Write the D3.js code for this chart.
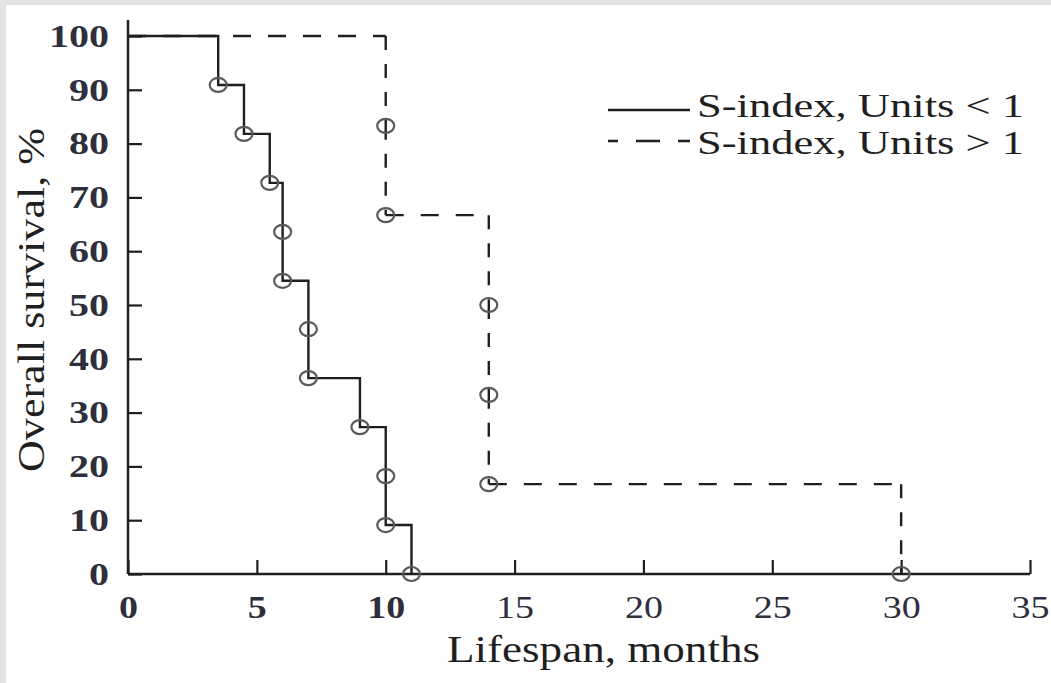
<!DOCTYPE html>
<html>
<head>
<meta charset="utf-8">
<script src="https://cdn.jsdelivr.net/npm/d3@7"></script>
<style>
  html, body { margin: 0; padding: 0; background: #e3e3e3; }
  svg { display: block; }
  svg text { font-family: 'Liberation Serif', Tinos, 'Times New Roman', Times, serif; }
</style>
</head>
<body>
<svg id="chart" width="1051" height="683"></svg>
<script>
// dados (Kaplan-Meier)
const solidTimes = [0, 3.5, 4.5, 5.5, 6, 6, 7, 7, 9, 10, 10, 11];
const solidSurv  = [100, 90.9, 81.8, 72.7, 63.6, 54.5, 45.5, 36.4, 27.3, 18.2, 9.1, 0];
const dashTimes  = [0, 10, 10, 14, 14, 14, 30];
const dashSurv   = [100, 83.3, 66.7, 50, 33.3, 16.7, 0];

const xTicks = [0, 5, 10, 15, 20, 25, 30, 35];
const yTicks = [0, 10, 20, 30, 40, 50, 60, 70, 80, 90, 100];
const legendLabels = ['S-index, Units < 1', 'S-index, Units > 1'];
const xTitle = 'Lifespan, months';
const yTitle = 'Overall survival, %';

// CAPS: constantes de estilo
const W = 1051, H = 683;
const INK = '#1f1f1f';
const TICK_INK = '#2e2e3c';

const $svg = d3.select('#chart');

// fundo branco com a borda cinza em cima e à esquerda
$svg.append('rect')
  .attr('x', 6).attr('y', 5)
  .attr('width', W - 6).attr('height', H - 5)
  .attr('fill', '#ffffff');

const x = d3.scaleLinear().domain([0, 35]).range([128, 1030]);
const y = d3.scaleLinear().domain([0, 100]).range([574, 36]);

// eixos
const xAxis = d3.axisBottom(x)
  .tickValues(xTicks)
  .tickSize(-14)
  .tickSizeOuter(0)
  .tickPadding(21);

const yAxis = d3.axisLeft(y)
  .tickValues(yTicks)
  .tickSize(-14)
  .tickSizeOuter(0)
  .tickPadding(19);

const $xAxis = $svg.append('g')
  .attr('transform', `translate(0,${y(0)})`)
  .call(xAxis);

const $yAxis = $svg.append('g')
  .attr('transform', `translate(${x(0)},0)`)
  .call(yAxis);

$svg.selectAll('.domain').remove();
// d3 põe font-family no <g> do eixo; tiro para valer o CSS
$svg.selectAll('g').attr('font-family', null);

[$xAxis, $yAxis].forEach($a => {
  $a.selectAll('.tick line')
    .attr('stroke', INK)
    .attr('stroke-width', 2.2);
  $a.selectAll('.tick text')
    .attr('fill', TICK_INK)
    .attr('font-size', 32)
    .attr('lengthAdjust', 'spacingAndGlyphs');
});

$yAxis.selectAll('.tick text')
  .attr('font-weight', 'bold')
  .attr('textLength', d => String(d).length * 20);

$xAxis.selectAll('.tick text')
  .attr('font-weight', d => d <= 10 ? 'bold' : 'normal')
  .attr('textLength', d => String(d).length * 19);

// linhas dos eixos (o eixo y passa um pouco acima do 100)
$svg.append('line')
  .attr('x1', x(0)).attr('x2', x(0))
  .attr('y1', y(0)).attr('y2', y(100) - 16)
  .attr('stroke', INK).attr('stroke-width', 2.5);

$svg.append('line')
  .attr('x1', x(0)).attr('x2', x(35))
  .attr('y1', y(0)).attr('y2', y(0))
  .attr('stroke', INK).attr('stroke-width', 2.5);

const solidData = solidTimes.map((t, i) => ({ t, s: solidSurv[i] }));
const dashData  = dashTimes.map((t, i) => ({ t, s: dashSurv[i] }));

const step = d3.line()
  .x(d => x(d.t))
  .y(d => y(d.s))
  .curve(d3.curveStepAfter);

// curva tracejada: trechos horizontais e verticais separados,
// porque o tracejado da figura é mais longo na horizontal
function stepPieces(data, horizontal) {
  const p = d3.path();
  for (let i = 1; i < data.length; i++) {
    const a = data[i - 1], b = data[i];
    if (horizontal && b.t > a.t) {
      p.moveTo(x(a.t), y(a.s));
      p.lineTo(x(b.t), y(a.s));
    }
    if (!horizontal && b.s !== a.s) {
      p.moveTo(x(b.t), y(a.s));
      p.lineTo(x(b.t), y(b.s));
    }
  }
  return p.toString();
}

$svg.append('path')
  .attr('d', stepPieces(dashData, true))
  .attr('fill', 'none')
  .attr('stroke', INK)
  .attr('stroke-width', 2.4)
  .attr('stroke-dasharray', '18,17');

$svg.append('path')
  .attr('d', stepPieces(dashData, false))
  .attr('fill', 'none')
  .attr('stroke', INK)
  .attr('stroke-width', 2.4)
  .attr('stroke-dasharray', '14,14');

// curva contínua (S-index < 1)
$svg.append('path')
  .datum(solidData)
  .attr('d', step)
  .attr('fill', 'none')
  .attr('stroke', INK)
  .attr('stroke-width', 2.4);

// marcadores (círculos achatados) em cada evento
const events = solidData.slice(1).concat(dashData.slice(1));

$svg.append('g')
  .selectAll('ellipse')
  .data(events)
  .enter()
  .append('ellipse')
  .attr('cx', d => x(d.t))
  .attr('cy', d => y(d.s))
  .attr('rx', 8.5)
  .attr('ry', 7)
  .attr('fill', 'none')
  .attr('stroke', '#5a5a5a')
  .attr('stroke-width', 2.2);

// títulos dos eixos
$svg.append('text')
  .attr('x', 447)
  .attr('y', 662)
  .attr('font-size', 38)
  .attr('fill', INK)
  .attr('textLength', 313)
  .attr('lengthAdjust', 'spacingAndGlyphs')
  .text(xTitle);

$svg.append('text')
  .attr('transform', 'translate(44,300) rotate(-90)')
  .attr('text-anchor', 'middle')
  .attr('font-size', 38)
  .attr('fill', INK)
  .attr('textLength', 344)
  .attr('lengthAdjust', 'spacingAndGlyphs')
  .text(yTitle);

// legenda
const legendRows = [
  { label: legendLabels[0], lineY: 110, textY: 117, dash: null },
  { label: legendLabels[1], lineY: 141, textY: 154, dash: '10,18,24,18,12' }
];

const $legend = $svg.append('g');

$legend.selectAll('line')
  .data(legendRows)
  .enter()
  .append('line')
  .attr('x1', 608).attr('x2', 690)
  .attr('y1', d => d.lineY).attr('y2', d => d.lineY)
  .attr('stroke', INK)
  .attr('stroke-width', 2.4)
  .attr('stroke-dasharray', d => d.dash);

$legend.selectAll('text')
  .data(legendRows)
  .enter()
  .append('text')
  .attr('x', 697)
  .attr('y', d => d.textY)
  .attr('font-size', 34)
  .attr('fill', INK)
  .attr('textLength', 327)
  .attr('lengthAdjust', 'spacingAndGlyphs')
  .text(d => d.label);
</script>
</body>
</html>
